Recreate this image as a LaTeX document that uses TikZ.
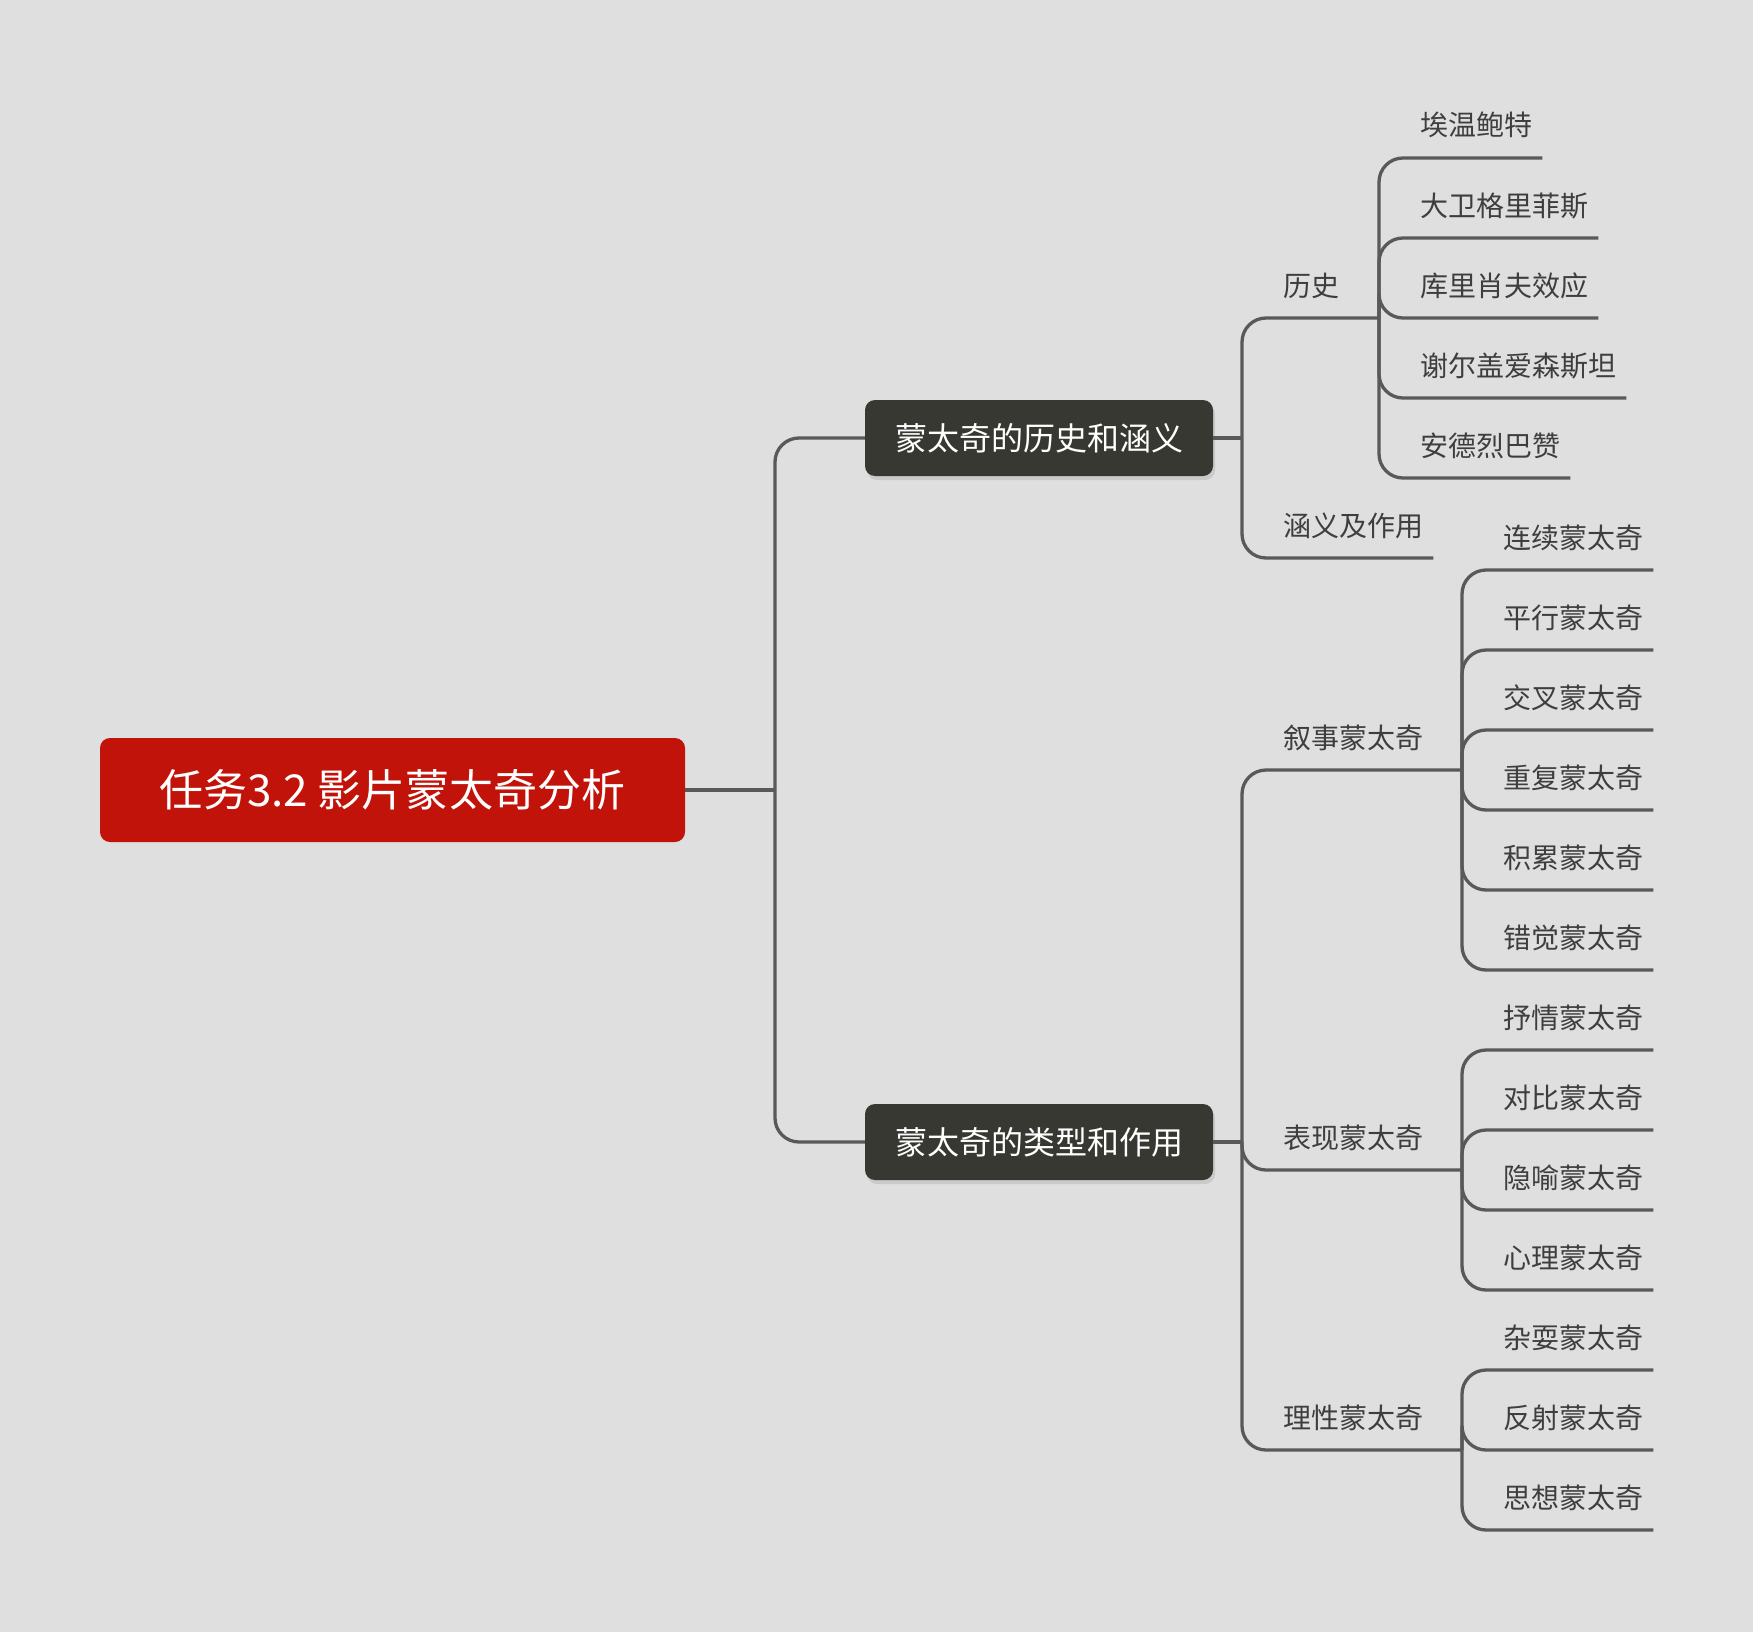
\documentclass[tikz,border=0pt]{standalone}
\usepackage{fontspec}
\newfontfamily\cjk{Noto Sans CJK SC}
\usetikzlibrary{shadows}
\definecolor{bgc}{HTML}{DFDFDF}
\definecolor{lnc}{HTML}{595959}
\definecolor{rootc}{HTML}{C2130A}
\definecolor{darkc}{HTML}{383832}
\definecolor{txtc}{HTML}{3E3E3E}
\begin{document}
\begin{tikzpicture}[x=1pt,y=-1pt,
  rootbox/.style={rectangle, rounded corners=10pt, fill=rootc, text=white,
    minimum width=585pt, minimum height=104pt, inner sep=0pt,
    font=\cjk\fontsize{44}{44}\selectfont},
  mainbox/.style={rectangle, rounded corners=10pt, fill=darkc, text=white,
    minimum width=348pt, minimum height=76pt, inner sep=0pt,
    font=\cjk\fontsize{32}{32}\selectfont,
    drop shadow={opacity=0.22, shadow xshift=2pt, shadow yshift=-4pt}},
  lbl/.style={inner sep=0pt, text=txtc, anchor=base west,
    font=\cjk\fontsize{28}{28}\selectfont},
  conn/.style={draw=lnc, line width=3.3pt, rounded corners=24pt},
  flat/.style={draw=lnc, line width=3.3pt}]
\fill[bgc] (0,0) rectangle (1753,1632);
\useasboundingbox (0,0) rectangle (1753,1632);

% nodes
\node[rootbox] (R) at (392.5,790) {任务3.2 影片蒙太奇分析};
\node[mainbox] (A) at (1039,438) {蒙太奇的历史和涵义};
\node[mainbox] (B) at (1039,1142) {蒙太奇的类型和作用};

\node[lbl] (hist) at (1283,296) {历史};
\node[lbl] (hanyi) at (1283,536) {涵义及作用};
\node[lbl] (h1) at (1420,136) {埃温鲍特};
\node[lbl] (h2) at (1420,216) {大卫格里菲斯};
\node[lbl] (h3) at (1420,296) {库里肖夫效应};
\node[lbl] (h4) at (1420,376) {谢尔盖爱森斯坦};
\node[lbl] (h5) at (1420,456) {安德烈巴赞};

\node[lbl] (nar) at (1283,748) {叙事蒙太奇};
\node[lbl] (exp) at (1283,1148) {表现蒙太奇};
\node[lbl] (rat) at (1283,1428) {理性蒙太奇};

\node[lbl] (n1) at (1503,548) {连续蒙太奇};
\node[lbl] (n2) at (1503,628) {平行蒙太奇};
\node[lbl] (n3) at (1503,708) {交叉蒙太奇};
\node[lbl] (n4) at (1503,788) {重复蒙太奇};
\node[lbl] (n5) at (1503,868) {积累蒙太奇};
\node[lbl] (n6) at (1503,948) {错觉蒙太奇};

\node[lbl] (e1) at (1503,1028) {抒情蒙太奇};
\node[lbl] (e2) at (1503,1108) {对比蒙太奇};
\node[lbl] (e3) at (1503,1188) {隐喻蒙太奇};
\node[lbl] (e4) at (1503,1268) {心理蒙太奇};

\node[lbl] (r1) at (1503,1348) {杂耍蒙太奇};
\node[lbl] (r2) at (1503,1428) {反射蒙太奇};
\node[lbl] (r3) at (1503,1508) {思想蒙太奇};

% junctions
\coordinate (jr) at (775,790);
\coordinate (jA) at (1242,438);
\coordinate (jB) at (1242,1142);
\coordinate (jH) at (1379,318);
\coordinate (jN) at (1462,770);
\coordinate (jE) at (1462,1170);
\coordinate (jL) at (1462,1450);

% root level
\draw[flat] (R.east) -- (jr);
\draw[conn] (jr) |- (A.west);
\draw[conn] (jr) |- (B.west);

% upper group
\draw[flat] (A.east) -- (jA);
\draw[conn] (jA) |- (jH);
\draw[conn] (jA) |- ([shift={(10,22)}]hanyi.base east);
\foreach \n in {h1,h2,h3,h4,h5}
  \draw[conn] (jH) |- ([shift={(10,22)}]\n.base east);

% lower group
\draw[flat] (B.east) -- (jB);
\draw[conn] (jB) |- (jN);
\draw[conn] (jB) |- (jE);
\draw[conn] (jB) |- (jL);
\foreach \n in {n1,n2,n3,n4,n5,n6}
  \draw[conn] (jN) |- ([shift={(10,22)}]\n.base east);
\foreach \n in {e1,e2,e3,e4}
  \draw[conn] (jE) |- ([shift={(10,22)}]\n.base east);
\foreach \n in {r1,r2,r3}
  \draw[conn] (jL) |- ([shift={(10,22)}]\n.base east);
\end{tikzpicture}
\end{document}
